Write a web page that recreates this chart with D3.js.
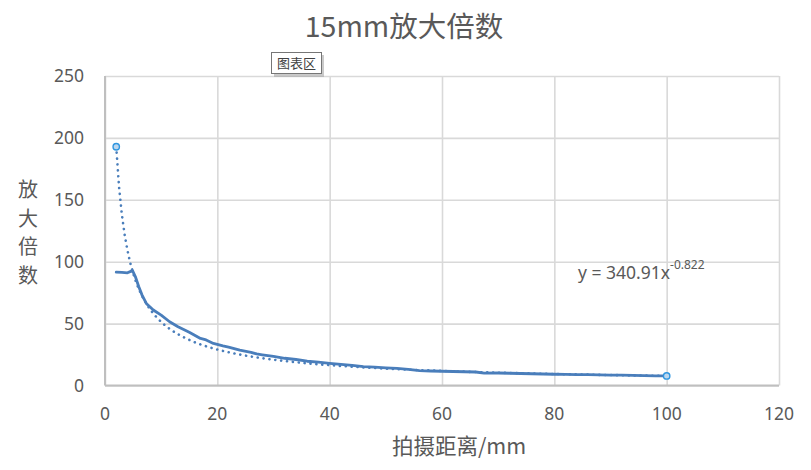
<!DOCTYPE html>
<html><head><meta charset="utf-8">
<script src="https://cdn.jsdelivr.net/npm/d3@7/dist/d3.min.js"></script>
<style>
body{margin:0;background:#fff;}
svg{display:block;}
</style></head>
<body>
<svg id="c" width="811" height="470"></svg>
<script>
// ---- data ----
const title = "15mm放大倍数";
const xTitle = "拍摄距离/mm";
const yTitle = ["放","大","倍","数"];
const xTicks = [0, 20, 40, 60, 80, 100, 120];
const yTicks = [0, 50, 100, 150, 200, 250];
const distance = [2,3,4,4.9,5.4,6,6.6,7.4,8.6,10,11.5,13,15,17,18,19.3,21,22,24,26,27,28,30,32,34,36,38,40,42,44,46,48,50,52,54,56,58,60,62,64,66,67.5,70,72,74,76,78,80,82,84,86,88,90,92,94,96,98,100];
const magnification = [91.5,91.3,91.0,92.8,88,80,73,66,61,56.8,51.5,47.5,43,38,36.8,34,32,31,28.5,26.8,25.5,24.8,23.5,22,21,19.6,18.8,17.8,17,16.3,15.3,14.8,14.2,13.8,13,12,11.7,11.5,11.3,11.1,10.9,10,10.1,9.9,9.7,9.5,9.3,9.1,9.0,8.8,8.8,8.6,8.4,8.3,8.2,8.0,7.8,7.7];
const trendCoef = [340.91, -0.822];   // power trendline y = a * x^b (from the chart label)
const trendRange = [2, 100];

// ---- drawing ----
const svg = d3.select("#c");
const m = {l:105, r:779, t:76, b:385.5};
const x = d3.scaleLinear().domain([0,120]).range([m.l, m.r]);
const y = d3.scaleLinear().domain([0,250]).range([m.b, m.t]);
const grey = "#595959";

svg.append("rect").attr("width",811).attr("height",470).attr("fill","#fff");

// gridlines
svg.append("g").attr("transform",`translate(0,${m.b})`)
  .call(d3.axisBottom(x).tickValues(xTicks).tickSize(-(m.b-m.t)).tickFormat(""))
  .call(g=>g.select(".domain").remove())
  .call(g=>g.selectAll("line").attr("stroke","#d9d9d9").attr("stroke-width",1.6));
svg.append("g").attr("transform",`translate(${m.l},0)`)
  .call(d3.axisLeft(y).tickValues(yTicks).tickSize(-(m.r-m.l)).tickFormat(""))
  .call(g=>g.select(".domain").remove())
  .call(g=>g.selectAll("line").attr("stroke","#d9d9d9").attr("stroke-width",1.6));

// axis lines
svg.append("line").attr("x1",x(0)).attr("x2",x(0)).attr("y1",y(250)).attr("y2",y(0))
  .attr("stroke","#bfbfbf").attr("stroke-width",2);
svg.append("line").attr("x1",x(0)).attr("x2",x(120)).attr("y1",y(0)).attr("y2",y(0))
  .attr("stroke","#bfbfbf").attr("stroke-width",2);

// tick labels
svg.append("g").selectAll("text").data(yTicks).join("text")
  .attr("x",84).attr("y",d=>y(d)).attr("dy","0.36em").attr("text-anchor","end")
  .attr("font-family","'Noto Sans', 'Open Sans', sans-serif").attr("font-size",17.5)
  .attr("fill",grey).text(d=>d);
svg.append("g").selectAll("text").data(xTicks).join("text")
  .attr("x",d=>x(d)).attr("y",420)
  .attr("text-anchor","middle")
  .attr("font-family","'Noto Sans', 'Open Sans', sans-serif").attr("font-size",17.5)
  .attr("fill",grey).text(d=>d);

// titles
svg.append("text").attr("x",404).attr("y",37).attr("text-anchor","middle")
  .attr("font-family","'Noto Sans CJK SC', 'Noto Sans', sans-serif").attr("font-size",28.5)
  .attr("fill",grey).text(title);
svg.append("text").attr("x",459).attr("y",454).attr("text-anchor","middle")
  .attr("font-family","'Noto Sans CJK SC', 'Noto Sans', sans-serif").attr("font-size",21.5)
  .attr("fill",grey).text(xTitle);
svg.append("g").selectAll("text").data(yTitle).join("text")
  .attr("x",28).attr("y",(d,i)=>190+i*28.5).attr("dy","0.36em").attr("text-anchor","middle")
  .attr("font-family","'Noto Sans CJK SC', sans-serif").attr("font-size",20)
  .attr("fill",grey).text(d=>d);

// data series
const line = d3.line().x(d=>x(d[0])).y(d=>y(d[1]));
svg.append("path").datum(distance.map((d,i)=>[d, magnification[i]]))
  .attr("d", line).attr("fill","none").attr("stroke","#4a7ebb")
  .attr("stroke-width",2.8).attr("stroke-linejoin","round").attr("stroke-linecap","round");

// trendline
const tx = d3.range(trendRange[0], trendRange[1]+0.001, 0.5);
const trendPts = tx.map(v=>[v, trendCoef[0]*Math.pow(v, trendCoef[1])]);
svg.append("path").datum(trendPts).attr("d", line).attr("fill","none")
  .attr("stroke","#4a7ebb").attr("stroke-width",2.6)
  .attr("stroke-dasharray","0.1,5.8").attr("stroke-linecap","round");
svg.append("g").selectAll("circle").data([trendPts[0], trendPts[trendPts.length-1]]).join("circle")
  .attr("cx",d=>x(d[0])).attr("cy",d=>y(d[1])).attr("r",3.2)
  .attr("fill","#bdd7ee").attr("stroke","#2f96e0").attr("stroke-width",1.4);

// equation label
const eq = svg.append("text").attr("x",578).attr("y",279)
  .attr("font-family","'Noto Sans', 'Open Sans', sans-serif").attr("font-size",17.5).attr("fill",grey);
eq.append("tspan").text(`y = ${trendCoef[0]}x`);
eq.append("tspan").attr("dy",-10).attr("font-size",12).text(trendCoef[1]);

// "图表区" tooltip
const tip = svg.append("g").attr("transform","translate(271,52)");
tip.append("rect").attr("x",3).attr("y",3).attr("width",50).attr("height",22).attr("fill","#a6a6a6").attr("opacity",0.6);
tip.append("rect").attr("x",0.5).attr("y",0.5).attr("width",50).attr("height",21).attr("fill","#fff").attr("stroke","#767676");
tip.append("text").attr("x",25.5).attr("y",16).attr("text-anchor","middle")
  .attr("font-family","'Noto Sans CJK SC', sans-serif").attr("font-size",13).attr("fill","#404040").text("图表区");
</script>
</body></html>
